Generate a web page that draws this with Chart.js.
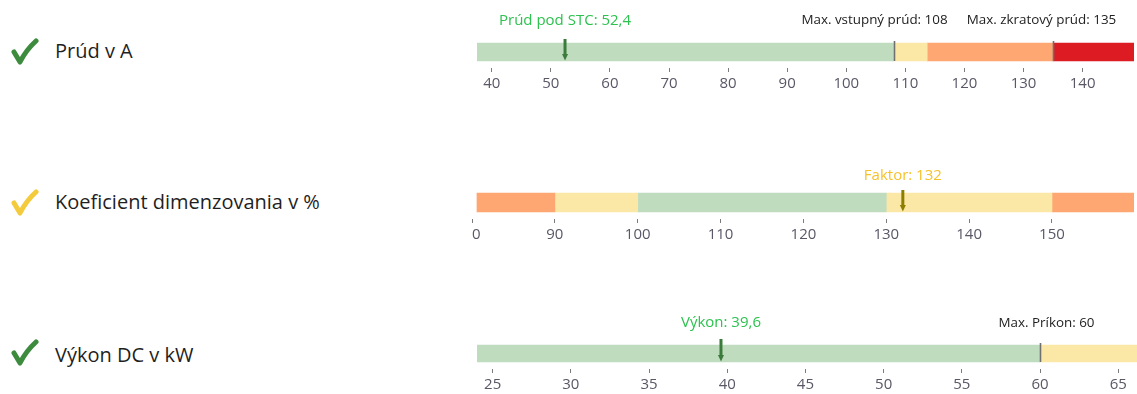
<!DOCTYPE html>
<html>
<head>
<meta charset="utf-8">
<script src="https://cdn.jsdelivr.net/npm/chart.js@4.4.1/dist/chart.umd.min.js"></script>
<style>
  html, body { margin: 0; padding: 0; background: #ffffff; }
  #page { position: relative; width: 1137px; height: 394px; overflow: hidden; font-family: "Open Sans", "Noto Sans", sans-serif; }
  .title { position: absolute; left: 55px; font-size: 20px; line-height: 24px; color: #1f1f1f; white-space: nowrap; }
  .check { position: absolute; left: 11px; width: 28px; height: 28px; }
  .gauge { position: absolute; left: 472px; }
</style>
</head>
<body>
<div id="page">
  <svg class="check" style="top:37px" viewBox="0 0 28 28"><path d="M3,15 L9,25 Q15,13 25,4" fill="none" stroke="#3d8b3d" stroke-width="5" stroke-linecap="round" stroke-linejoin="round"/></svg>
  <div class="title" id="t0" style="top:39px"></div>
  <svg class="check" style="top:188px" viewBox="0 0 28 28"><path d="M3,15 L9,25 Q15,13 25,4" fill="none" stroke="#f3cb3c" stroke-width="5" stroke-linecap="round" stroke-linejoin="round"/></svg>
  <div class="title" id="t1" style="top:190px"></div>
  <svg class="check" style="top:338px" viewBox="0 0 28 28"><path d="M3,15 L9,25 Q15,13 25,4" fill="none" stroke="#3d8b3d" stroke-width="5" stroke-linecap="round" stroke-linejoin="round"/></svg>
  <div class="title" id="t2" style="top:343px"></div>

  <canvas class="gauge" id="g0" width="665" height="100" style="top:0px"></canvas>
  <canvas class="gauge" id="g1" width="665" height="100" style="top:150px"></canvas>
  <canvas class="gauge" id="g2" width="665" height="94" style="top:300px"></canvas>
</div>
<script>
// ---- values ----
const rowTitles = ['Prúd v A', 'Koeficient dimenzovania v %', 'Výkon DC v kW'];

// current (A)
const currentZones = [37.5, 108, 113.7, 135, 148.7];
const currentTicks = [40, 50, 60, 70, 80, 90, 100, 110, 120, 130, 140];
const currentValue = 52.4;
const currentLimits = [108, 135];
const currentLimitNames = ['Max. vstupný prúd', 'Max. zkratový prúd'];
const currentValueName = 'Prúd pod STC';

// sizing factor (%)
const factorZones = [80.6, 90, 100, 130, 150, 159.9];
const factorTicks = [80, 90, 100, 110, 120, 130, 140, 150];
const factorValue = 132;
const factorLimits = [];
const factorLimitNames = [];
const factorValueName = 'Faktor';

// DC power (kW)
const powerZones = [24, 60, 66.2];
const powerTicks = [25, 30, 35, 40, 45, 50, 55, 60, 65];
const powerValue = 39.6;
const powerLimits = [60];
const powerLimitNames = ['Max. Príkon'];
const powerValueName = 'Výkon';

// ---- styles ----
const GREEN = '#c0dcbf', YELLOW = '#fbe8a7', ORANGE = '#fea772', RED = '#dc1b23';
const FONT = '"Open Sans", "Noto Sans", sans-serif';

const fmt = v => String(v).replace('.', ',');

rowTitles.forEach((t, i) => { document.getElementById('t' + i).textContent = t; });

// draws the limit lines, the value pointer and their captions
const gaugeMarks = {
  id: 'gaugeMarks',
  afterDatasetsDraw(chart, args, o) {
    const ctx = chart.ctx;
    const xs = chart.scales.x;
    const bar = chart.getDatasetMeta(0).data[0];
    const { y, height } = bar.getProps(['y', 'height'], true);
    const top = y - height / 2, bottom = y + height / 2;
    ctx.save();
    // limit lines
    o.limits.forEach((v, i) => {
      const px = Math.round(xs.getPixelForValue(v)) + 0.5;
      ctx.strokeStyle = '#707070';
      ctx.lineWidth = 1.6;
      ctx.beginPath();
      ctx.moveTo(px, top - 2);
      ctx.lineTo(px, bottom);
      ctx.stroke();
      ctx.fillStyle = '#222222';
      ctx.font = '13.4px ' + FONT;
      ctx.textAlign = 'center';
      ctx.textBaseline = 'alphabetic';
      ctx.fillText(o.limitNames[i] + ': ' + fmt(v), px + o.limitShift[i], o.limitY);
    });
    // value pointer
    const vx = xs.getPixelForValue(o.value);
    ctx.strokeStyle = o.pointerColor;
    ctx.fillStyle = o.pointerColor;
    ctx.lineWidth = 3;
    ctx.beginPath();
    ctx.moveTo(vx, top - o.pointerRise);
    ctx.lineTo(vx, bottom - 5);
    ctx.stroke();
    ctx.beginPath();
    ctx.moveTo(vx - 3, bottom - 7);
    ctx.lineTo(vx + 3, bottom - 7);
    ctx.lineTo(vx, bottom - 0.5);
    ctx.closePath();
    ctx.fill();
    ctx.fillStyle = o.textColor;
    ctx.font = '15px ' + FONT;
    ctx.textAlign = 'center';
    ctx.textBaseline = 'alphabetic';
    ctx.fillText(o.valueName + ': ' + fmt(o.value), vx, o.valueY);
    ctx.restore();
  }
};

function buildGauge(id, g) {
  const datasets = g.zones.slice(0, -1).map((start, i) => ({
    data: [[start, g.zones[i + 1]]],
    backgroundColor: g.colors[i],
    borderWidth: 0,
    borderSkipped: false,
    grouped: false,
    barThickness: g.thickness
  }));
  return new Chart(document.getElementById(id), {
    type: 'bar',
    data: { labels: [''], datasets },
    options: {
      indexAxis: 'y',
      responsive: false,
      animation: false,
      events: [],
      layout: { padding: g.padding },
      plugins: {
        legend: { display: false },
        tooltip: { enabled: false },
        gaugeMarks: g.marks
      },
      scales: {
        y: { display: false },
        x: {
          type: 'linear',
          min: g.min,
          max: g.max,
          afterBuildTicks(s) { s.ticks = g.ticks.map(v => ({ value: v })); },
          afterFit(s) { s.paddingLeft = 0; s.paddingRight = 0; s.height = 24; },
          grid: { drawOnChartArea: false, drawTicks: true, tickLength: 4, color: '#7c7c7c', lineWidth: 1 },
          border: { display: false },
          ticks: {
            autoSkip: false, maxRotation: 0, padding: 3,
            color: '#5a5766',
            font: { family: FONT, size: 15 }
          }
        }
      }
    },
    plugins: [gaugeMarks]
  });
}

buildGauge('g0', {
  zones: currentZones, ticks: currentTicks,
  min: currentZones[0], max: currentZones[currentZones.length - 1],
  colors: [GREEN, YELLOW, ORANGE, RED], thickness: 18,
  padding: { top: 36, bottom: 8, left: 5, right: 3 },
  marks: {
    value: currentValue, valueName: currentValueName, valueY: 24.5,
    textColor: '#2dc24f', pointerColor: '#3b7b3b', pointerRise: 4,
    limits: currentLimits, limitNames: currentLimitNames, limitShift: [-20, -12], limitY: 24
  }
});

buildGauge('g1', {
  zones: factorZones, ticks: factorTicks,
  min: factorTicks[0], max: factorZones[factorZones.length - 1],
  colors: [ORANGE, YELLOW, GREEN, YELLOW, ORANGE], thickness: 19,
  padding: { top: 36, bottom: 7, left: 0, right: 3 },
  marks: {
    value: factorValue, valueName: factorValueName, valueY: 29.5,
    textColor: '#f6c22c', pointerColor: '#8e7e00', pointerRise: 3,
    limits: factorLimits, limitNames: factorLimitNames, limitShift: [], limitY: 0
  }
});

buildGauge('g2', {
  zones: powerZones, ticks: powerTicks,
  min: powerZones[0], max: powerZones[powerZones.length - 1],
  colors: [GREEN, YELLOW], thickness: 17,
  padding: { top: 38, bottom: 1, left: 5, right: 0 },
  marks: {
    value: powerValue, valueName: powerValueName, valueY: 27,
    textColor: '#2dc24f', pointerColor: '#3b7b3b', pointerRise: 6,
    limits: powerLimits, limitNames: powerLimitNames, limitShift: [6], limitY: 27
  }
});
</script>
</body>
</html>
